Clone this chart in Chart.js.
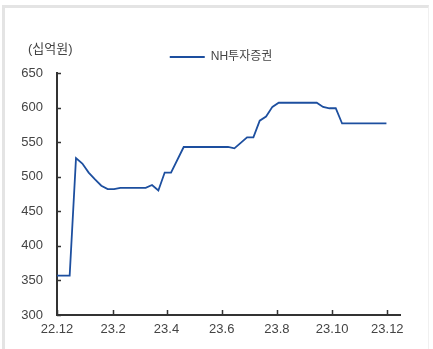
<!DOCTYPE html>
<html>
<head>
<meta charset="utf-8">
<script src="https://cdn.jsdelivr.net/npm/chart.js@4/dist/chart.umd.min.js"></script>
<style>
  html, body { margin: 0; padding: 0; background: #fff; }
  #wrap { position: relative; width: 433px; height: 349px; overflow: hidden; }
  #frame {
    position: absolute; left: 2px; top: 5px; width: 423px; height: 350px;
    border-left: 3px solid #e4e4e4; border-top: 3px solid #e4e4e4; border-right: 1px solid #f0f0f0;
  }
  canvas { position: absolute; left: 0; top: 0; }
</style>
</head>
<body>
<div id="wrap">
  <div id="frame"></div>
  <canvas id="chart" width="433" height="349"></canvas>
</div>
<script>
// days counted from 2022-12-01
const days = [0, 14, 21, 28, 35, 42, 49, 56, 63, 70, 98, 105, 112, 119, 126, 140,
  189, 196, 203, 210, 217, 224, 231, 238, 245, 287, 294, 301, 308, 315, 364];
const values = [357, 357, 527, 519, 506, 496, 487, 482, 482, 484, 484, 488, 480, 506, 506, 543,
  543, 541, 549, 557, 557, 581, 587, 601, 607, 607, 601, 599, 599, 577, 577];
const tickDays = [0, 62, 121, 182, 243, 304, 365];
const tickLabels = ['22.12', '23.2', '23.4', '23.6', '23.8', '23.10', '23.12'];
const yTicks = [300, 350, 400, 450, 500, 550, 600, 650];

const seriesName = 'NH투자증권';
const unitLabel = '(십억원)';

const lineColor = '#1d4f9f';
const textColor = '#444444';
const axisColor = '#333333';
const fontFamily = "'Liberation Sans', Arial, 'Noto Sans CJK KR', sans-serif";

// inward tick marks and unit label
let extras = {
  id: 'extras',
  afterDraw(chart) {
    let ctx = chart.ctx;
    let x = chart.scales.x;
    let y = chart.scales.y;
    let area = chart.chartArea;
    ctx.save();
    ctx.strokeStyle = axisColor;
    ctx.lineWidth = 1.5;
    ctx.beginPath();
    yTicks.forEach(v => {
      let py = Math.round(y.getPixelForValue(v)) + 0.5;
      ctx.moveTo(area.left, py);
      ctx.lineTo(area.left + 4, py);
    });
    tickDays.forEach(v => {
      let px = Math.round(x.getPixelForValue(v)) + 0.5;
      ctx.moveTo(px, area.bottom);
      ctx.lineTo(px, area.bottom - 5);
    });
    ctx.stroke();
    ctx.fillStyle = textColor;
    ctx.font = '13px ' + fontFamily;
    ctx.textAlign = 'left';
    ctx.textBaseline = 'middle';
    ctx.fillText(unitLabel, 28, 49);
    ctx.restore();
  }
};

let data = {
  datasets: [{
    label: seriesName,
    data: days.map((d, i) => ({ x: d, y: values[i] })),
    borderColor: lineColor,
    backgroundColor: lineColor,
    borderWidth: 1.8,
    pointRadius: 0,
    tension: 0
  }]
};

let config = {
  type: 'line',
  data: data,
  options: {
    responsive: false,
    animation: false,
    layout: { padding: { left: 9, top: 41, right: 0, bottom: 0 } },
    plugins: {
      legend: {
        display: true,
        position: 'top',
        align: 'center',
        labels: {
          boxWidth: 35,
          boxHeight: 0,
          padding: 10,
          color: textColor,
          font: { family: fontFamily, size: 12 }
        }
      },
      tooltip: { enabled: false }
    },
    scales: {
      x: {
        type: 'linear',
        min: 0,
        max: 379,
        afterBuildTicks: (scale) => { scale.ticks = tickDays.map(v => ({ value: v })); },
        afterFit: (scale) => { scale.height = 34; },
        grid: { display: false, drawTicks: false },
        border: { display: true, color: axisColor, width: 2 },
        ticks: {
          autoSkip: false,
          maxRotation: 0,
          padding: 7,
          color: textColor,
          font: { family: fontFamily, size: 13 },
          callback: (value) => tickLabels[tickDays.indexOf(value)]
        }
      },
      y: {
        min: 300,
        max: 650,
        afterBuildTicks: (scale) => { scale.ticks = yTicks.map(v => ({ value: v })); },
        afterFit: (scale) => { scale.width = 48; },
        grid: { display: false, drawTicks: false },
        border: { display: true, color: axisColor, width: 2 },
        ticks: {
          padding: 14,
          color: textColor,
          font: { family: fontFamily, size: 13 }
        }
      },
      y2: {
        position: 'right',
        display: true,
        afterFit: (scale) => { scale.width = 33; },
        grid: { display: false, drawTicks: false },
        border: { display: false },
        ticks: { display: false }
      }
    }
  },
  plugins: [extras]
};

let ctx = document.getElementById('chart').getContext('2d');
let myChart = new Chart(ctx, config);
</script>
</body>
</html>
